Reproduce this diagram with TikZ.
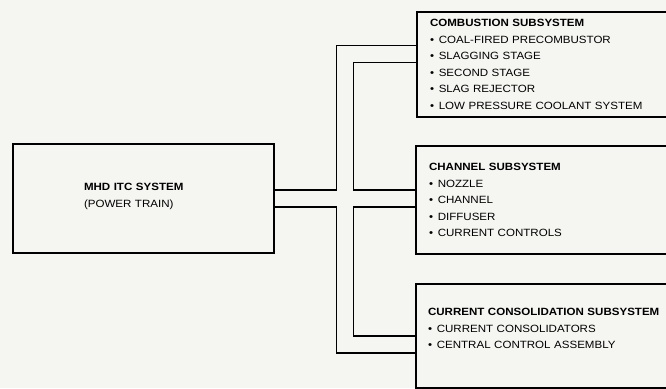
\documentclass[tikz,border=0pt]{standalone}
\usepackage{fontspec}
\setmainfont[FakeStretch=1.1]{Liberation Sans}
\usetikzlibrary{backgrounds}
\definecolor{paper}{RGB}{245,245,242}
\newcommand\bul{\textbullet\hspace{0.45em}}
\begin{document}
\begin{tikzpicture}[x=1pt,y=-1pt,
  box/.style={draw, line width=2pt, fill=paper, rectangle, anchor=north west,
    inner xsep=13pt, inner ysep=0pt, align=left,
    font=\fontsize{10.5}{16.5}\selectfont},
  pipeout/.style={line width=18.8pt, draw=black, line join=miter},
  pipein/.style={line width=15.2pt, draw=paper, line join=miter}]
\useasboundingbox (0,0) rectangle (666,388);
\clip (0,0) rectangle (666,388);

\node[box, minimum width=261pt, minimum height=109pt, inner xsep=71pt, text width=119pt] (mhd) at (12,143)
  {{\bfseries MHD ITC SYSTEM}\\(POWER TRAIN)\\[-10pt]\mbox{}};
\node[box, minimum width=290pt, minimum height=105pt, text width=264pt] (comb) at (416,11)
  {{\bfseries COMBUSTION SUBSYSTEM}\\
   \bul COAL-FIRED PRECOMBUSTOR\\
   \bul SLAGGING STAGE\\
   \bul SECOND STAGE\\
   \bul SLAG REJECTOR\\
   \bul LOW PRESSURE COOLANT SYSTEM};
\node[box, minimum width=290pt, minimum height=108pt, text width=264pt] (chan) at (415,145)
  {{\bfseries CHANNEL SUBSYSTEM}\\
   \bul NOZZLE\\
   \bul CHANNEL\\
   \bul DIFFUSER\\
   \bul CURRENT CONTROLS};
\node[box, minimum width=290pt, minimum height=103.5pt, inner xsep=12pt, text width=266pt] (cons) at (415,283)
  {{\bfseries CURRENT CONSOLIDATION SUBSYSTEM}\\
   \bul CURRENT CONSOLIDATORS\\
   \bul CENTRAL CONTROL ASSEMBLY\\[-2pt]\mbox{}};

\coordinate (ctop) at (345,54);
\coordinate (cbot) at (345,344.5);

\begin{scope}[on background layer]
  \fill[paper] (0,0) rectangle (666,388);
  \draw[pipeout] (mhd.east) -- (mhd.east -| chan.west);
  \draw[pipeout] (comb.west |- ctop) -- (ctop) -- (cbot) -- (cons.west |- cbot);
  \draw[pipein] (mhd.east) -- (mhd.east -| chan.west);
  \draw[pipein] (comb.west |- ctop) -- (ctop) -- (cbot) -- (cons.west |- cbot);
\end{scope}
\end{tikzpicture}
\end{document}
